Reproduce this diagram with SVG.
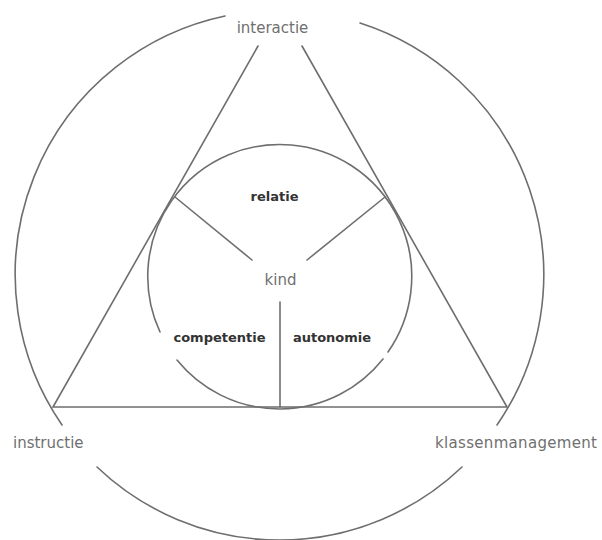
<svg xmlns="http://www.w3.org/2000/svg" width="602" height="540" viewBox="0 0 602 540">
  <style>
    .ln { fill: none; stroke: #6e6e6e; stroke-width: 1.6; stroke-linecap: round; }
    .lbl { font-family: "DejaVu Sans", "Liberation Sans", sans-serif; font-size: 15px; fill: #707070; }
    .bold { font-family: "DejaVu Sans", "Liberation Sans", sans-serif; font-size: 13px; font-weight: bold; fill: #333333; }
  </style>
  <rect width="602" height="540" fill="#ffffff"/>
  <g id="connectors">
    <path class="ln" d="M225,16 A264.5,264.5 0 0 0 62,425"/>
    <path class="ln" d="M97,467 A264.5,264.5 0 0 0 462,467"/>
    <path class="ln" d="M360,23 A264.5,264.5 0 0 1 497,425"/>
    <path class="ln" d="M258,46 L53,407 L507,407 L302,46"/>
    <path class="ln" d="M160,332 A132,132 0 1 1 388,352"/>
    <path class="ln" d="M383,359 A132,132 0 0 1 177,360"/>
    <path class="ln" d="M175,197 L252,260"/>
    <path class="ln" d="M385,197 L307,260"/>
    <path class="ln" d="M280,302 L280,407"/>
  </g>
  <g id="interactie"><text class="lbl" x="272.5" y="33" text-anchor="middle">interactie</text></g>
  <g id="instructie"><text class="lbl" x="13" y="448">instructie</text></g>
  <g id="klassenmanagement"><text class="lbl" x="435" y="448" textLength="162">klassenmanagement</text></g>
  <g id="kind"><text class="lbl" x="280.5" y="285" text-anchor="middle">kind</text></g>
  <g id="relatie"><text class="bold" x="274.5" y="201" text-anchor="middle">relatie</text></g>
  <g id="competentie"><text class="bold" x="219.5" y="342" text-anchor="middle">competentie</text></g>
  <g id="autonomie"><text class="bold" x="332" y="342" text-anchor="middle">autonomie</text></g>
</svg>
